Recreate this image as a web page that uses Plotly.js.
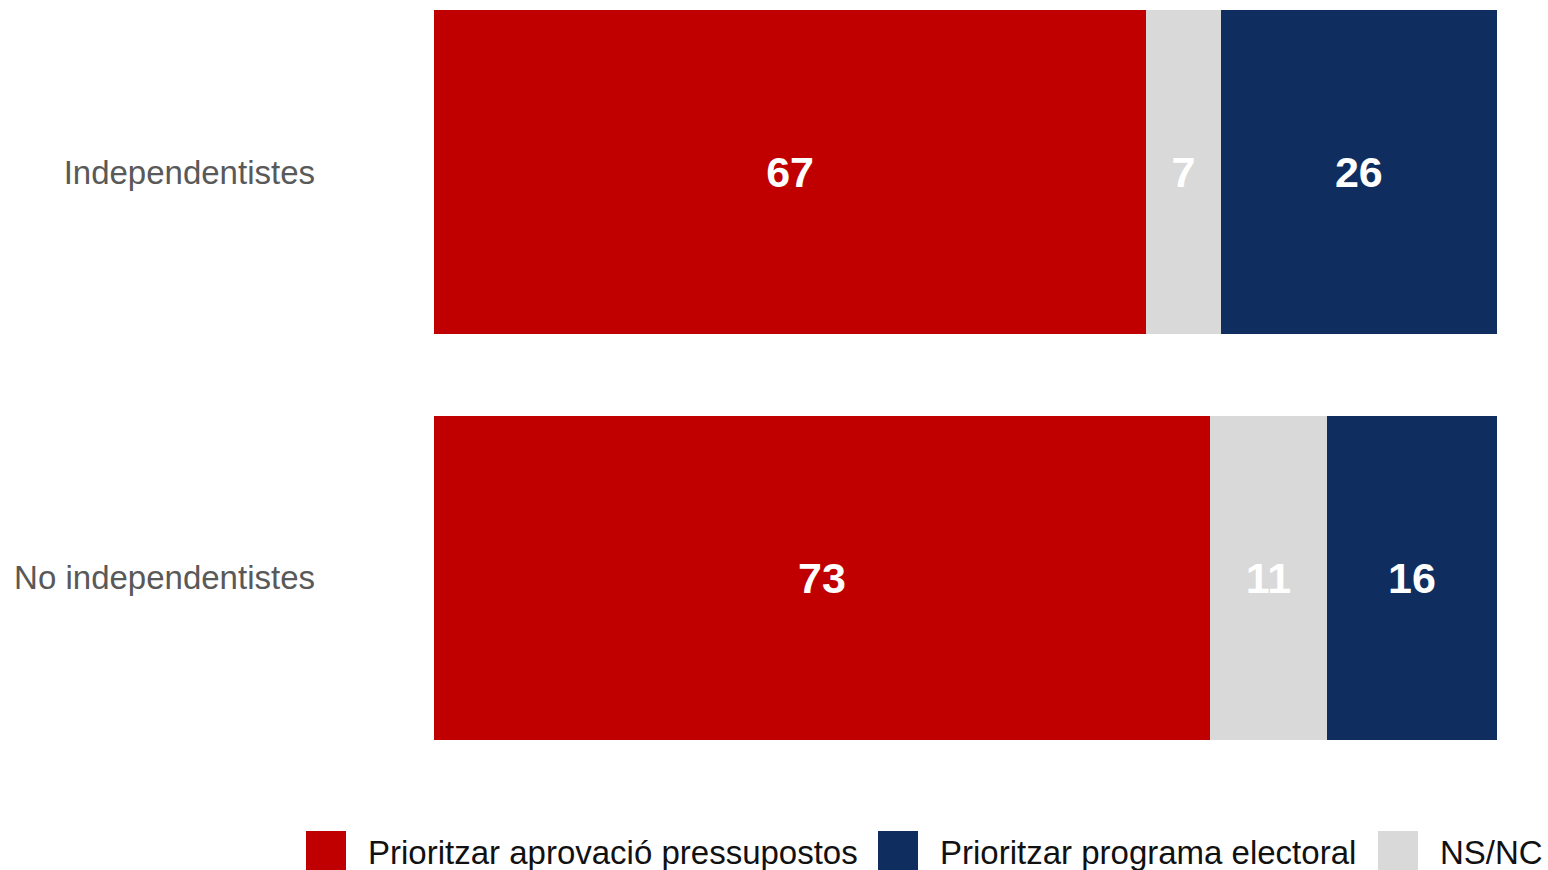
<!DOCTYPE html>
<html>
<head>
<meta charset="utf-8">
<script src="https://cdn.plot.ly/plotly-3.0.1.min.js"></script>
<style>html,body{margin:0;padding:0;background:#fff;}#chart{width:1548px;height:870px;}</style>
</head>
<body>
<div id="chart"></div>
<script>
const categories = ["Independentistes", "No independentistes"];
const seriesNames = ["Prioritzar aprovació pressupostos", "NS/NC", "Prioritzar programa electoral"];
const aprovacio = [67, 73];
const nsnc = [7, 11];
const programa = [26, 16];
const colors = ["#C00000", "#D9D9D9", "#0F2E5F"];
const legendOrder = [0, 2, 1];

const values = [aprovacio, nsnc, programa];
const fontFam = "'Liberation Sans', Arial, sans-serif";

const traces = values.map((v, i) => ({
  type: "bar",
  orientation: "h",
  name: seriesNames[i],
  y: categories,
  x: v,
  text: v.map(String),
  textposition: "inside",
  insidetextanchor: "middle",
  textangle: 0,
  textfont: {family: fontFam, size: 43, color: "#FFFFFF", weight: 700},
  marker: {color: colors[i], line: {width: 0}},
  showlegend: false,
  hoverinfo: "x+name"
}));

// Custom legend (large swatches)
const W = 1548 - 434 - 51, H = 730;
const px = x => (x - 434) / W;
const py = y => (740 - y) / H;
const legendX = [306, 878, 1378];
const shapes = [], annotations = [];
legendOrder.forEach((idx, k) => {
  shapes.push({type: "rect", xref: "paper", yref: "paper",
    x0: px(legendX[k]), x1: px(legendX[k] + 40), y0: py(872), y1: py(831),
    fillcolor: colors[idx], line: {width: 0}});
  annotations.push({xref: "paper", yref: "paper", x: px(legendX[k] + 60), y: py(852),
    xanchor: "left", yanchor: "middle", showarrow: false, text: seriesNames[idx],
    font: {family: fontFam, size: 33, color: "#111111"}});
});

const layout = {
  width: 1548, height: 870,
  margin: {l: 434, r: 51, t: 10, b: 130},
  barmode: "stack",
  bargap: 0.2,
  paper_bgcolor: "#FFFFFF",
  plot_bgcolor: "#FFFFFF",
  xaxis: {range: [0, 100], visible: false, fixedrange: true},
  yaxis: {type: "category", categoryorder: "array", categoryarray: categories,
    range: [1.4, -0.4], showgrid: false, zeroline: false, showline: false,
    ticks: "", ticklabelstandoff: 118,
    tickfont: {family: fontFam, size: 33, color: "#595959"}},
  shapes: shapes,
  annotations: annotations,
  showlegend: false
};

Plotly.newPlot("chart", traces, layout, {displayModeBar: false, staticPlot: true});
</script>
</body>
</html>
